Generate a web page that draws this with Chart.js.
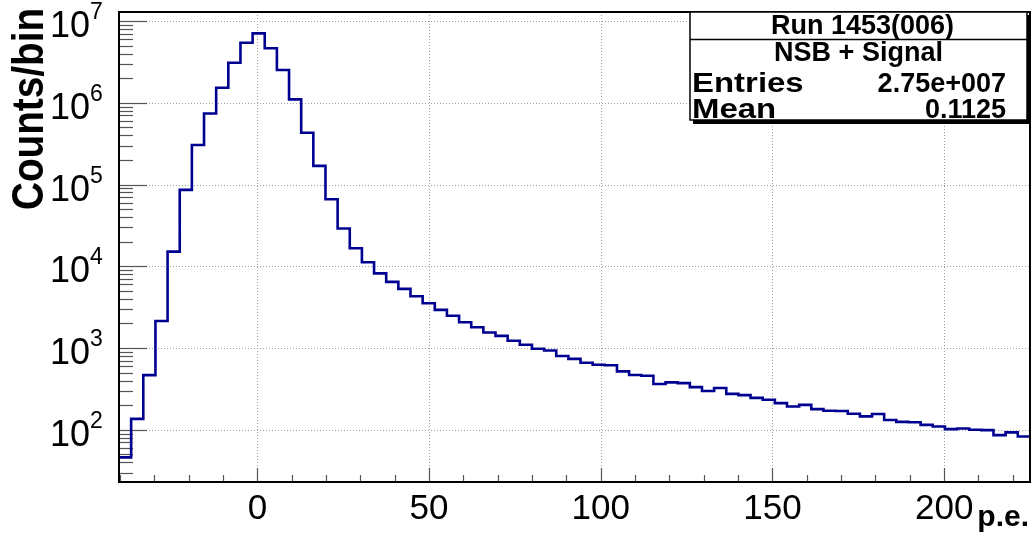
<!DOCTYPE html>
<html>
<head>
<meta charset="utf-8">
<script src="https://cdn.jsdelivr.net/npm/chart.js@4/dist/chart.umd.min.js"></script>
<style>
  html, body { margin: 0; padding: 0; background: #fff; }
  #wrap { width: 1036px; height: 545px; }
</style>
</head>
<body>
<div id="wrap"><canvas id="histo"></canvas></div>
<script>
// histogram binning (p.e.)
var xLow = -40.3;
var binWidth = 3.537;
// counts per bin
var counts = [46, 136, 467, 2140, 15100, 86000, 305000, 740000, 1530000, 3090000,
  5430000, 7070000, 4640000, 2520000, 1100000, 430000, 169000, 66000, 29000, 16600,
  11200, 8200, 6450, 5300, 4300, 3540, 2930, 2480, 2070, 1800,
  1550, 1410, 1230, 1100, 980, 935, 800, 738, 660, 624,
  615, 519, 468, 458, 363, 380, 372, 333, 299, 325,
  275, 266, 246, 233, 212, 193, 202, 179, 171, 170,
  157, 146, 156, 132, 125, 124, 115, 110, 102, 104,
  100, 99, 86, 93, 83];

var xMajorTicks = [0, 50, 100, 150, 200];
var xMinorStep = 10;
var yDecades = [2, 3, 4, 5, 6, 7]; // 10^n labels
var yMin = 23, yMax = 1.29e7;
var xMin = -40.3, xMax = 225.0;

var statsTitle = "Run 1453(006)";
var statsName = "NSB + Signal";
var statsRows = [["Entries", "2.75e+007"], ["Mean", "0.1125"]];
var yTitle = "Counts/bin";
var xTitle = "p.e.";

// step points: low edge of each bin, plus the upper edge of the last one
var points = [];
for (var i = 0; i < counts.length; i++) {
  points.push({x: xLow + i * binWidth, y: counts[i]});
}
points.push({x: xLow + counts.length * binWidth, y: counts[counts.length - 1]});

var FONT = '"Liberation Sans", Arial, Helvetica, sans-serif';

// ROOT style frame, grid, ticks, labels and stats box
var rootFrame = {
  id: 'rootFrame',
  beforeDatasetsDraw: function(chart) {
    var ctx = chart.ctx, a = chart.chartArea;
    var xs = chart.scales.x, ys = chart.scales.y;
    ctx.save();
    // dotted grid
    ctx.strokeStyle = '#a0a0a0';
    ctx.lineWidth = 1;
    ctx.setLineDash([1, 2]);
    xMajorTicks.forEach(function(v) {
      var px = Math.round(xs.getPixelForValue(v)) + 0.5;
      ctx.beginPath(); ctx.moveTo(px, a.top); ctx.lineTo(px, a.bottom); ctx.stroke();
    });
    yDecades.forEach(function(n) {
      var py = Math.round(ys.getPixelForValue(Math.pow(10, n))) + 0.5;
      ctx.beginPath(); ctx.moveTo(a.left, py); ctx.lineTo(a.right, py); ctx.stroke();
    });
    ctx.setLineDash([]);
    // x tick marks
    ctx.strokeStyle = '#555';
    ctx.lineWidth = 1.2;
    for (var v = Math.ceil(xMin / xMinorStep) * xMinorStep; v <= xMax; v += xMinorStep) {
      var px = Math.round(xs.getPixelForValue(v)) + 0.5;
      var len = (v % 50 === 0) ? 14 : 7;
      ctx.beginPath(); ctx.moveTo(px, a.bottom); ctx.lineTo(px, a.bottom - len); ctx.stroke();
    }
    // y tick marks
    for (var n = 1; n <= 7; n++) {
      for (var m = 1; m <= 9; m++) {
        var val = m * Math.pow(10, n);
        if (val < yMin || val > yMax) continue;
        var py = Math.round(ys.getPixelForValue(val)) + 0.5;
        var l = (m === 1) ? 28 : 14;
        ctx.beginPath(); ctx.moveTo(a.left, py); ctx.lineTo(a.left + l, py); ctx.stroke();
      }
    }
    ctx.restore();
  },
  afterDatasetsDraw: function(chart) {
    var ctx = chart.ctx, a = chart.chartArea;
    var xs = chart.scales.x, ys = chart.scales.y;
    ctx.save();
    // frame
    ctx.strokeStyle = '#000';
    ctx.lineWidth = 2;
    ctx.strokeRect(a.left, a.top, a.right - a.left, a.bottom - a.top);

    ctx.fillStyle = '#000';
    // x tick labels
    ctx.font = '35px ' + FONT;
    ctx.textAlign = 'center';
    ctx.textBaseline = 'alphabetic';
    xMajorTicks.forEach(function(v) {
      ctx.fillText(String(v), xs.getPixelForValue(v), 519);
    });
    // y tick labels 10^n
    yDecades.forEach(function(n) {
      var py = ys.getPixelForValue(Math.pow(10, n));
      ctx.font = '36px ' + FONT;
      ctx.textAlign = 'right';
      ctx.fillText('10', 90, py + 16);
      ctx.font = '23px ' + FONT;
      ctx.textAlign = 'left';
      ctx.fillText(String(n), 90, py - 2);
    });
    // axis titles
    ctx.font = 'bold 30px ' + FONT;
    ctx.textAlign = 'right';
    ctx.fillText(xTitle, 1029, 526);

    ctx.save();
    ctx.translate(43, 210);
    ctx.rotate(-Math.PI / 2);
    ctx.scale(0.86, 1);
    ctx.font = 'bold 45px ' + FONT;
    ctx.textAlign = 'left';
    ctx.fillText(yTitle, 0, 0);
    ctx.restore();

    // stats box
    var bx = 690, by = 12, bw = 337, bh = 108;
    ctx.fillStyle = '#000';
    ctx.fillRect(bx + 3, by + 3, bw + 1, bh + 1);
    ctx.fillStyle = '#fff';
    ctx.fillRect(bx, by, bw, bh);
    ctx.strokeStyle = '#000';
    ctx.lineWidth = 1.5;
    ctx.strokeRect(bx, by, bw, bh);
    ctx.beginPath(); ctx.moveTo(bx, 39.5); ctx.lineTo(bx + bw, 39.5); ctx.stroke();

    ctx.fillStyle = '#000';
    ctx.font = 'bold 27px ' + FONT;
    ctx.textAlign = 'center';
    ctx.fillText(statsTitle, bx + bw / 2 + 4, 34);
    ctx.fillText(statsName, bx + bw / 2, 61);
    var rowY = [92, 118];
    statsRows.forEach(function(r, k) {
      ctx.save();
      ctx.translate(bx + 2, rowY[k]);
      ctx.scale(1.22, 1);
      ctx.textAlign = 'left';
      ctx.fillText(r[0], 0, 0);
      ctx.restore();
      ctx.textAlign = 'right';
      ctx.fillText(r[1], bx + bw - 21, rowY[k]);
    });
    ctx.restore();
  }
};

var ctx = document.getElementById('histo').getContext('2d');
var chart = new Chart(ctx, {
  type: 'line',
  data: {
    datasets: [{
      label: statsName,
      data: points,
      stepped: 'before',
      borderColor: '#000090',
      borderWidth: 2.6,
      pointRadius: 0,
      fill: false
    }]
  },
  options: {
    responsive: true,
    maintainAspectRatio: false,
    animation: false,
    events: [],
    layout: { padding: { top: 12, right: 6, left: 0, bottom: 0 } },
    scales: {
      x: {
        type: 'linear',
        min: xMin,
        max: xMax,
        grid: { display: false },
        border: { display: false },
        ticks: { display: false, stepSize: 10 },
        afterFit: function(s) { s.height = 63; }
      },
      y: {
        type: 'logarithmic',
        min: yMin,
        max: yMax,
        grid: { display: false },
        border: { display: false },
        ticks: { display: false },
        afterFit: function(s) { s.width = 119; }
      }
    },
    plugins: {
      legend: { display: false },
      tooltip: { enabled: false }
    }
  },
  plugins: [rootFrame]
});
</script>
</body>
</html>
